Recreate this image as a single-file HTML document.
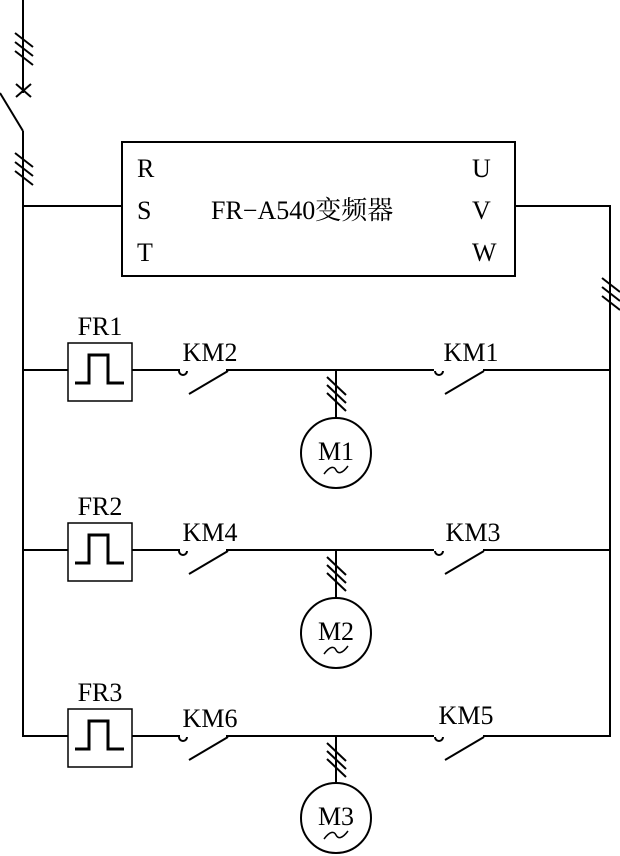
<!DOCTYPE html>
<html><head><meta charset="utf-8"><style>
html,body{margin:0;padding:0;background:#fff;}
svg{display:block;}
text{font-family:"Liberation Serif","Noto Serif CJK SC",serif;fill:#000;}
</style></head><body>
<svg width="620" height="856" viewBox="0 0 620 856" xmlns="http://www.w3.org/2000/svg">
<defs>
<g id="hash" stroke="#000" stroke-width="2" fill="none">
<line x1="-8" y1="-12" x2="10" y2="2"/>
<line x1="-8" y1="-3" x2="10" y2="11"/>
<line x1="-8" y1="6" x2="10" y2="20"/>
</g>
<g id="hashs" stroke="#000" stroke-width="2" fill="none">
<line x1="-9" y1="-10" x2="10" y2="8"/>
<line x1="-9" y1="-2" x2="10" y2="16"/>
<line x1="-9" y1="6" x2="10" y2="24"/>
</g>
<g id="fr" stroke="#000" fill="none">
<rect x="0" y="-27" width="64" height="58" stroke-width="1.5"/>
<polyline points="7,13 21,13 21,-15 40,-15 40,13 56,13" stroke-width="3"/>
</g>
<g id="no" stroke="#000" fill="none" stroke-width="2">
<path d="M-4,0 A4,4 0 0 0 4,0"/>
<line x1="6" y1="23" x2="45" y2="0"/>
</g>
<path id="tl" d="M-12,4 C-6,-4 -2,-4 0,0 C2,4 6,4 12,-4" fill="none" stroke="#000" stroke-width="1.5"/>
</defs>
<g stroke="#000" stroke-width="2" fill="none">
<line x1="23" y1="0" x2="23" y2="93"/>
<line x1="16" y1="84" x2="31" y2="97"/>
<line x1="31" y1="84" x2="16" y2="97"/>
<line x1="0" y1="93" x2="23" y2="131"/>
<line x1="23" y1="131" x2="23" y2="737"/>
<line x1="23" y1="206" x2="122" y2="206"/>
<rect x="122" y="142" width="393" height="134" stroke-width="2"/>
<polyline points="515,206 610,206 610,737"/>
<line x1="23" y1="370" x2="68" y2="370"/>
<line x1="132" y1="370" x2="180" y2="370"/>
<line x1="226" y1="370" x2="434" y2="370"/>
<line x1="483" y1="370" x2="610" y2="370"/>
<line x1="336" y1="370" x2="336" y2="418"/>
<circle cx="336" cy="453" r="35"/>
<line x1="23" y1="550" x2="68" y2="550"/>
<line x1="132" y1="550" x2="180" y2="550"/>
<line x1="226" y1="550" x2="434" y2="550"/>
<line x1="483" y1="550" x2="610" y2="550"/>
<line x1="336" y1="550" x2="336" y2="598"/>
<circle cx="336" cy="633" r="35"/>
<line x1="23" y1="736" x2="68" y2="736"/>
<line x1="132" y1="736" x2="180" y2="736"/>
<line x1="226" y1="736" x2="434" y2="736"/>
<line x1="483" y1="736" x2="610" y2="736"/>
<line x1="336" y1="736" x2="336" y2="783"/>
<circle cx="336" cy="818" r="35"/>
</g>
<use href="#hash" x="23" y="45"/>
<use href="#hash" x="23" y="165"/>
<use href="#hash" x="610" y="290"/>
<use href="#hashs" x="336" y="387"/>
<use href="#hashs" x="336" y="567"/>
<use href="#hashs" x="336" y="753"/>
<use href="#fr" x="68" y="370"/>
<use href="#fr" x="68" y="550"/>
<use href="#fr" x="68" y="736"/>
<use href="#no" x="183" y="371"/>
<use href="#no" x="439" y="371"/>
<use href="#no" x="183" y="551"/>
<use href="#no" x="439" y="551"/>
<use href="#no" x="183" y="737"/>
<use href="#no" x="439" y="737"/>
<use href="#tl" x="336" y="470"/>
<use href="#tl" x="336" y="650"/>
<use href="#tl" x="336" y="835"/>
<g font-size="26">
<text x="137" y="177">R</text>
<text x="137" y="219">S</text>
<text x="137" y="261">T</text>
<text x="472" y="177">U</text>
<text x="472" y="219">V</text>
<text x="472" y="261">W</text>
<text x="211" y="219">FR−A540变频器</text>
<text x="100" y="335" text-anchor="middle">FR1</text>
<text x="210" y="361" text-anchor="middle">KM2</text>
<text x="471" y="361" text-anchor="middle">KM1</text>
<text x="100" y="515" text-anchor="middle">FR2</text>
<text x="210" y="541" text-anchor="middle">KM4</text>
<text x="473" y="541" text-anchor="middle">KM3</text>
<text x="100" y="701" text-anchor="middle">FR3</text>
<text x="210" y="727" text-anchor="middle">KM6</text>
<text x="466" y="724" text-anchor="middle">KM5</text>
<text x="336" y="460" text-anchor="middle">M1</text>
<text x="336" y="640" text-anchor="middle">M2</text>
<text x="336" y="825" text-anchor="middle">M3</text>
</g>
</svg>
</body></html>
